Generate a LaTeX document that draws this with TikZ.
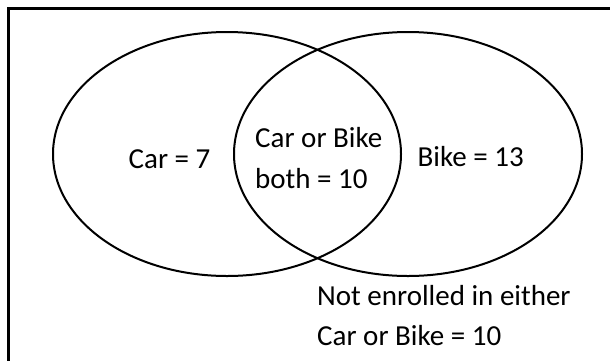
\documentclass[tikz,border=0pt]{standalone}
\usepackage{fontspec}
\setmainfont{Carlito}
\usetikzlibrary{shapes.geometric}
\begin{document}
\begin{tikzpicture}[x=1pt,y=-1pt,
  lbl/.style={font=\fontsize{29}{34}\selectfont, inner sep=0pt, anchor=base west},
  setring/.style={draw, line width=2pt, ellipse, minimum width=348pt, minimum height=244pt, inner sep=0pt}]
\useasboundingbox (0,0) rectangle (610,360);
\draw[line width=2.6pt] (8.5,380) -- (8.5,8.5) -- (630,8.5);
\node[setring] (car) at (227,154) {};
\node[setring] (bike) at (408,154) {};
\node[lbl] (carlbl) at (128.5,168.3) {Car = 7};
\node[lbl] (both1) at (255,147.3) {Car or Bike};
\node[lbl] (both2) at (255,188) {both = 10};
\node[lbl] (bikelbl) at (417.5,166.7) {Bike = 13};
\node[lbl] (none1) at (317,305) {Not enrolled in either};
\node[lbl] (none2) at (317,345) {Car or Bike = 10};
\end{tikzpicture}
\end{document}
